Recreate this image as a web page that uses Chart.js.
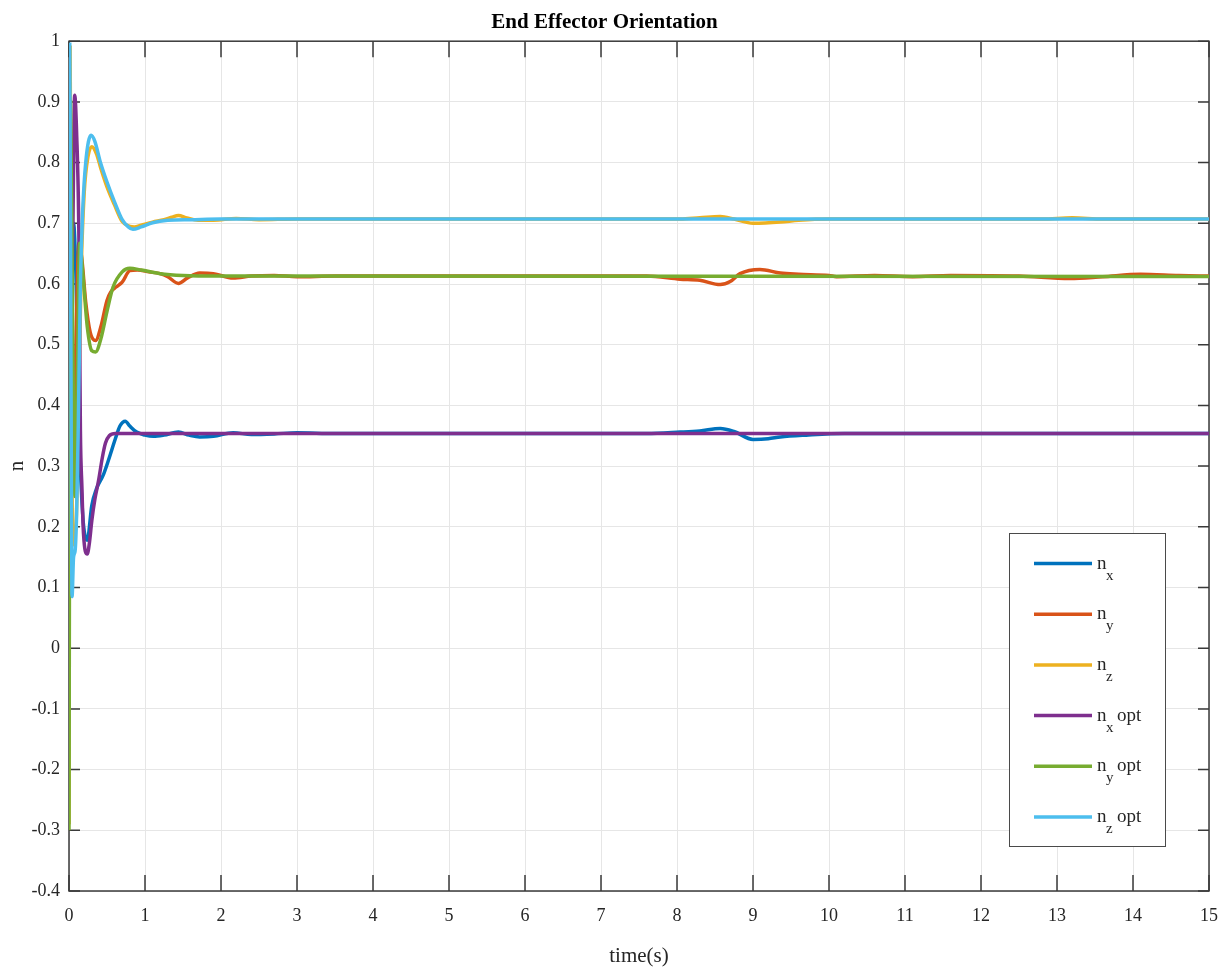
<!DOCTYPE html>
<html>
<head>
<meta charset="utf-8">
<title>End Effector Orientation</title>
<script src="https://cdn.jsdelivr.net/npm/chart.js@4.4.0/dist/chart.umd.min.js"></script>
<style>
  html, body { margin: 0; padding: 0; background: #ffffff; }
  canvas { display: block; }
</style>
</head>
<body>
<canvas id="chart" width="1223" height="971"></canvas>
<script>
// ---- time samples (s) and orientation components ----
const nxTime = [0, 0.03, 0.06, 0.09, 0.12, 0.15, 0.18, 0.21, 0.24, 0.3, 0.36, 0.45, 0.52, 0.61, 0.67, 0.74, 0.8, 0.89, 1.0, 1.11, 1.25, 1.44, 1.58, 1.72, 1.9, 2.16, 2.4, 2.7, 3.0, 3.5, 7.6, 8.04, 8.3, 8.57, 8.75, 9.0, 9.2, 9.36, 9.7, 10.2, 15];
const nxVal  = [0.30, 0.55, 0.70, 0.62, 0.45, 0.30, 0.22, 0.185, 0.178, 0.235, 0.262, 0.285, 0.31, 0.345, 0.366, 0.374, 0.366, 0.356, 0.351, 0.349, 0.351, 0.356, 0.351, 0.348, 0.349, 0.355, 0.352, 0.353, 0.355, 0.3536, 0.3536, 0.356, 0.358, 0.362, 0.357, 0.344, 0.345, 0.348, 0.351, 0.3536, 0.3536];

const nyTime = [0, 0.02, 0.05, 0.08, 0.13, 0.17, 0.22, 0.28, 0.35, 0.42, 0.5, 0.55, 0.62, 0.7, 0.8, 0.9, 1.05, 1.2, 1.3, 1.44, 1.56, 1.72, 1.9, 2.16, 2.4, 2.7, 3.0, 3.5, 7.6, 8.04, 8.3, 8.57, 8.7, 8.83, 9.09, 9.36, 9.6, 10.0, 10.1, 10.6, 11.1, 11.6, 12.5, 13.17, 13.6, 14.1, 14.6, 15];
const nyVal  = [0.90, 0.60, 0.37, 0.45, 0.667, 0.64, 0.57, 0.52, 0.507, 0.53, 0.573, 0.587, 0.595, 0.603, 0.622, 0.623, 0.620, 0.617, 0.612, 0.601, 0.610, 0.618, 0.617, 0.610, 0.613, 0.614, 0.612, 0.613, 0.613, 0.608, 0.606, 0.599, 0.604, 0.617, 0.624, 0.618, 0.616, 0.614, 0.612, 0.614, 0.612, 0.614, 0.613, 0.609, 0.612, 0.616, 0.614, 0.613];

const nzTime = [0, 0.008, 0.015, 0.03, 0.05, 0.07, 0.09, 0.11, 0.13, 0.16, 0.2, 0.25, 0.3, 0.36, 0.42, 0.5, 0.6, 0.7, 0.8, 0.86, 0.95, 1.1, 1.25, 1.35, 1.44, 1.55, 1.7, 1.9, 2.2, 2.5, 3.0, 7.8, 8.04, 8.3, 8.57, 8.75, 9.0, 9.36, 9.6, 10.0, 10.5, 12.8, 13.2, 13.6, 15];
const nzVal  = [-0.29, 0.95, 0.99, 0.5, 0.17, 0.19, 0.2, 0.28, 0.42, 0.62, 0.75, 0.81, 0.826, 0.815, 0.79, 0.76, 0.73, 0.703, 0.695, 0.694, 0.697, 0.702, 0.706, 0.710, 0.713, 0.709, 0.705, 0.705, 0.708, 0.706, 0.707, 0.707, 0.707, 0.709, 0.711, 0.707, 0.700, 0.702, 0.705, 0.707, 0.707, 0.707, 0.709, 0.707, 0.707];

const nxOptTime = [0, 0.03, 0.05, 0.075, 0.1, 0.13, 0.15, 0.17, 0.19, 0.24, 0.27, 0.3, 0.34, 0.39, 0.44, 0.48, 0.53, 0.61, 15];
const nxOptVal  = [0.35, 0.5, 0.68, 0.911, 0.85, 0.68, 0.36, 0.265, 0.19, 0.155, 0.175, 0.21, 0.245, 0.277, 0.315, 0.338, 0.35, 0.3536, 0.3536];

const nyOptTime = [0, 0.02, 0.05, 0.08, 0.11, 0.14, 0.18, 0.24, 0.3, 0.35, 0.42, 0.5, 0.58, 0.7, 0.8, 0.95, 1.2, 1.5, 2.0, 15];
const nyOptVal  = [-0.3, 0.9, 0.5, 0.25, 0.45, 0.667, 0.62, 0.53, 0.49, 0.488, 0.51, 0.555, 0.595, 0.62, 0.626, 0.623, 0.617, 0.614, 0.613, 0.6124];

const nzOptTime = [0, 0.01, 0.025, 0.04, 0.06, 0.08, 0.1, 0.12, 0.15, 0.18, 0.22, 0.29, 0.34, 0.41, 0.5, 0.6, 0.7, 0.78, 0.84, 0.95, 1.1, 1.3, 1.6, 2.0, 15];
const nzOptVal  = [0.95, 0.995, 0.5, 0.085, 0.15, 0.16, 0.22, 0.35, 0.6, 0.72, 0.80, 0.845, 0.835, 0.802, 0.768, 0.735, 0.706, 0.694, 0.690, 0.694, 0.701, 0.705, 0.706, 0.707, 0.7071];

// ---- axis ticks ----
const xTickValues = [0, 1, 2, 3, 4, 5, 6, 7, 8, 9, 10, 11, 12, 13, 14, 15];
const xTickLabels = ['0', '1', '2', '3', '4', '5', '6', '7', '8', '9', '10', '11', '12', '13', '14', '15'];
const yTickValues = [-0.4, -0.3, -0.2, -0.1, 0, 0.1, 0.2, 0.3, 0.4, 0.5, 0.6, 0.7, 0.8, 0.9, 1];
const yTickLabels = ['-0.4', '-0.3', '-0.2', '-0.1', '0', '0.1', '0.2', '0.3', '0.4', '0.5', '0.6', '0.7', '0.8', '0.9', '1'];

// ---- legend text: base letter, subscript, suffix ----
const legendBase   = ['n', 'n', 'n', 'n', 'n', 'n'];
const legendSub    = ['x', 'y', 'z', 'x', 'y', 'z'];
const legendSuffix = ['', '', '', 'opt', 'opt', 'opt'];

const seriesColors = ['#0072BD', '#D95319', '#EDB120', '#7E2F8E', '#77AC30', '#4DBEEE'];

const seriesTimes  = [nxTime, nyTime, nzTime, nxOptTime, nyOptTime, nzOptTime];
const seriesValues = [nxVal, nyVal, nzVal, nxOptVal, nyOptVal, nzOptVal];

const zip = (ts, vs) => ts.map((t, i) => ({ x: t, y: vs[i] }));

const datasets = seriesTimes.map((ts, i) => ({
  label: legendBase[i] + legendSub[i] + (legendSuffix[i] ? ' ' + legendSuffix[i] : ''),
  data: zip(ts, seriesValues[i]),
  borderColor: seriesColors[i],
  backgroundColor: seriesColors[i],
  borderWidth: 3.5,
  pointRadius: 0,
  fill: false,
  cubicInterpolationMode: 'monotone',
  order: seriesTimes.length - 1 - i   // later series are painted on top
}));

const AXIS_COLOR = '#3a3a3a';
const SERIF = '"Liberation Serif", "Times New Roman", serif';

// Box around the plot area with inward tick marks on all four sides
const axesBox = {
  id: 'axesBox',
  beforeDatasetsDraw(chart) {
    const { ctx, chartArea: a, scales } = chart;
    ctx.save();
    ctx.strokeStyle = AXIS_COLOR;
    ctx.lineWidth = 1.5;
    ctx.beginPath();
    xTickValues.forEach(v => {
      const x = scales.x.getPixelForValue(v);
      ctx.moveTo(x, a.bottom); ctx.lineTo(x, a.bottom - 16);
      ctx.moveTo(x, a.top);    ctx.lineTo(x, a.top + 16);
    });
    yTickValues.forEach(v => {
      const y = scales.y.getPixelForValue(v);
      ctx.moveTo(a.left, y);  ctx.lineTo(a.left + 11, y);
      ctx.moveTo(a.right, y); ctx.lineTo(a.right - 11, y);
    });
    ctx.stroke();
    ctx.strokeRect(a.left, a.top, a.right - a.left, a.bottom - a.top);
    ctx.restore();
  }
};

// Legend box with subscripted entries
const subscriptLegend = {
  id: 'subscriptLegend',
  afterDraw(chart) {
    const { ctx } = chart;
    const box = { left: 1009, top: 533, width: 156, height: 313 };
    const rowGap = 50.7;
    const firstRow = 563.5;
    ctx.save();
    ctx.fillStyle = '#ffffff';
    ctx.fillRect(box.left, box.top, box.width, box.height);
    ctx.strokeStyle = '#4a4a4a';
    ctx.lineWidth = 1;
    ctx.strokeRect(box.left + 0.5, box.top + 0.5, box.width, box.height);
    chart.data.datasets.forEach((ds, i) => {
      const y = firstRow + i * rowGap;
      ctx.strokeStyle = ds.borderColor;
      ctx.lineWidth = 3.5;
      ctx.beginPath();
      ctx.moveTo(1034, y);
      ctx.lineTo(1092, y);
      ctx.stroke();
      ctx.fillStyle = '#262626';
      ctx.textAlign = 'left';
      ctx.textBaseline = 'alphabetic';
      ctx.font = '19px ' + SERIF;
      ctx.fillText(legendBase[i], 1097, y + 5);
      ctx.font = '15px ' + SERIF;
      ctx.fillText(legendSub[i], 1106, y + 16);
      if (legendSuffix[i]) {
        ctx.font = '19px ' + SERIF;
        ctx.fillText(legendSuffix[i], 1117, y + 5);
      }
    });
    ctx.restore();
  }
};

new Chart(document.getElementById('chart'), {
  type: 'line',
  data: { datasets },
  plugins: [axesBox, subscriptLegend],
  options: {
    responsive: false,
    animation: false,
    devicePixelRatio: 1,
    layout: { padding: { left: 0, right: 14, top: 0, bottom: 0 } },
    plugins: {
      legend: { display: false },
      tooltip: { enabled: false },
      title: {
        display: true,
        text: 'End Effector Orientation',
        color: '#000000',
        font: { family: SERIF, size: 21, weight: 'bold', lineHeight: 1.2 },
        padding: { top: 10, bottom: 6 }
      }
    },
    scales: {
      x: {
        type: 'linear',
        min: 0,
        max: 15,
        afterBuildTicks(scale) { scale.ticks = xTickValues.map(v => ({ value: v })); },
        afterFit(scale) {
          scale.height = 80;
          scale.paddingLeft = 0;
          scale.paddingRight = 0;
        },
        ticks: {
          autoSkip: false,
          maxRotation: 0,
          padding: 14,
          color: '#262626',
          font: { family: SERIF, size: 18 },
          callback: (v) => xTickLabels[xTickValues.indexOf(v)]
        },
        grid: { color: '#e6e6e6', lineWidth: 1, drawTicks: false },
        border: { display: false },
        title: {
          display: true,
          text: 'time(s)',
          color: '#262626',
          font: { family: SERIF, size: 21, lineHeight: 1.2 },
          padding: { top: 0, bottom: 2 }
        }
      },
      y: {
        type: 'linear',
        min: -0.4,
        max: 1,
        afterBuildTicks(scale) { scale.ticks = yTickValues.map(v => ({ value: v })); },
        afterFit(scale) {
          scale.width = 69;
          scale.paddingTop = 0;
          scale.paddingBottom = 0;
        },
        ticks: {
          autoSkip: false,
          padding: 9,
          color: '#262626',
          font: { family: SERIF, size: 18 },
          callback: (v) => {
            const k = yTickValues.findIndex(t => Math.abs(t - v) < 1e-9);
            return k >= 0 ? yTickLabels[k] : '';
          }
        },
        grid: { color: '#e6e6e6', lineWidth: 1, drawTicks: false },
        border: { display: false },
        title: {
          display: true,
          text: 'n',
          color: '#262626',
          font: { family: SERIF, size: 21, lineHeight: 1.2 },
          padding: { top: 5, bottom: 0 }
        }
      }
    }
  }
});
</script>
</body>
</html>
